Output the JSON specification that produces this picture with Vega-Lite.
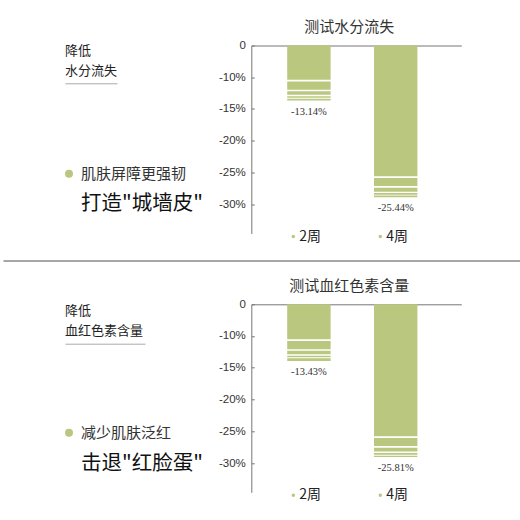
{
  "$schema": "https://vega.github.io/schema/vega-lite/v6.json",
  "background": "white",
  "padding": {"top": 19.5, "left": 0, "right": 0, "bottom": 0},
  "bounds": "flush",
  "columns": 2,
  "spacing": {"row": 70.8, "column": 98.3},
  "resolve": {"scale": {"color": "independent"}},
  "config": {
    "view": {"stroke": null},
    "font": "Noto Sans CJK SC",
    "axis": {"grid": false},
    "title": {"font": "Noto Sans CJK SC", "fontWeight": "normal", "fontSize": 15, "color": "#333", "anchor": "middle", "offset": 4.5, "dx": -7}
  },
  "concat": [
    {
      "width": 150,
      "height": 188,
      "data": {"values": [
        {"块": "标题", "文字": "降低"},
        {"块": "标题", "文字": "水分流失"},
        {"块": "要点", "文字": "肌肤屏障更强韧"},
        {"块": "口号", "文字": "打造\"城墙皮\""}
      ]},
      "resolve": {"scale": {"y": "independent"}},
      "layer": [
        {
          "transform": [{"filter": "datum['块'] === '标题'"}],
          "mark": {"type": "text", "align": "left", "baseline": "middle", "fontSize": 13, "color": "#222"},
          "encoding": {
            "x": {"datum": 0, "type": "quantitative", "scale": {"domain": [0, 1], "range": [62, 114]},
                  "axis": {"orient": "top", "offset": -37.8, "domain": true, "domainColor": "#aaa", "ticks": false, "labels": false, "title": null}},
            "y": {"field": "文字", "type": "nominal", "sort": null, "scale": {"type": "point", "padding": 0, "range": [5.5, 25]}, "axis": null},
            "text": {"field": "文字"}
          }
        },
        {
          "transform": [{"filter": "datum['块'] === '要点'"}],
          "mark": {"type": "point", "filled": true, "size": 64, "opacity": 1, "xOffset": 4, "color": "#b9c77f"},
          "encoding": {
            "x": {"datum": 0, "type": "quantitative"},
            "y": {"field": "块", "type": "nominal", "scale": {"type": "point", "padding": 0, "domain": ["要点", "口号"], "range": [128.2, 158.5]}, "axis": null}
          }
        },
        {
          "transform": [{"filter": "datum['块'] === '要点'"}],
          "mark": {"type": "text", "align": "left", "baseline": "middle", "fontSize": 15, "color": "#333", "dx": 16},
          "encoding": {
            "x": {"datum": 0, "type": "quantitative"},
            "y": {"field": "块", "type": "nominal", "scale": {"type": "point", "padding": 0, "domain": ["要点", "口号"], "range": [128.2, 158.5]}, "axis": null},
            "text": {"field": "文字"}
          }
        },
        {
          "transform": [{"filter": "datum['块'] === '口号'"}],
          "mark": {"type": "text", "align": "left", "baseline": "middle", "fontSize": 20.5, "color": "#111", "dx": 16},
          "encoding": {
            "x": {"datum": 0, "type": "quantitative"},
            "y": {"field": "块", "type": "nominal", "scale": {"type": "point", "padding": 0, "domain": ["要点", "口号"], "range": [128.2, 158.5]}, "axis": null},
            "text": {"field": "文字"}
          }
        }
      ]
    },
    {
      "width": 210,
      "height": 188,
      "title": "测试水分流失",
      "data": {"values": [
        {"周": "2周", "起": 0, "止": -10.44},
        {"周": "2周", "起": -10.71, "止": -12.01},
        {"周": "2周", "起": -12.23, "止": -12.79},
        {"周": "2周", "起": -13.01, "止": -13.26},
        {"周": "2周", "起": -13.42, "止": -13.68, "标注": "-13.14%"},
        {"周": "4周", "起": 0, "止": -25.52},
        {"周": "4周", "起": -25.8, "止": -27.08},
        {"周": "4周", "起": -27.32, "止": -27.95},
        {"周": "4周", "起": -28.15, "止": -28.42},
        {"周": "4周", "起": -28.57, "止": -28.81, "标注": "-25.44%"}
      ]},
      "layer": [
        {
          "mark": {"type": "bar", "opacity": 1},
          "encoding": {
            "x": {"field": "周", "type": "nominal", "sort": null,
                  "scale": {"paddingInner": 0.5, "paddingOuter": 0.46, "align": 0.45},
                  "axis": {"orient": "top", "domain": true, "domainColor": "#777", "ticks": false, "labels": false, "title": null}},
            "y": {"field": "起", "type": "quantitative",
                  "scale": {"domain": [0, -10, -34.5], "range": [0, 31.5, 188], "nice": false, "zero": false},
                  "axis": {"values": [0, -10, -15, -20, -25, -30], "tickCount": 12, "labelExpr": "datum.value === 0 ? '0' : datum.value + '%'",
                           "labelOverlap": false, "title": null, "domainColor": "#777", "tickColor": "#777", "tickSize": -3, "labelPadding": 9,
                           "labelFont": "Liberation Sans", "labelFontSize": 11.5, "labelColor": "#333"}},
            "y2": {"field": "止"},
            "color": {"field": "周", "type": "nominal", "scale": {"range": ["#b9c77f", "#b9c77f"]},
                      "legend": {"orient": "none", "legendX": 35, "legendY": 184, "direction": "horizontal", "title": null,
                                 "symbolType": "circle", "symbolSize": 12, "symbolStrokeWidth": 0, "labelOffset": -1,
                                 "labelFontSize": 14, "labelFont": "Noto Sans CJK SC", "labelColor": "#222", "columnPadding": 52, "padding": 0}}
          }
        },
        {
          "transform": [{"filter": "datum['标注']"}],
          "mark": {"type": "text", "baseline": "middle", "dy": 11, "font": "Liberation Serif", "fontSize": 10.5, "color": "#333"},
          "encoding": {
            "x": {"field": "周", "type": "nominal", "sort": null},
            "y": {"field": "止", "type": "quantitative"},
            "text": {"field": "标注"}
          }
        }
      ]
    },
    {
      "width": 150,
      "height": 188,
      "data": {"values": [
        {"块": "标题", "文字": "降低"},
        {"块": "标题", "文字": "血红色素含量"},
        {"块": "要点", "文字": "减少肌肤泛红"},
        {"块": "口号", "文字": "击退\"红脸蛋\""}
      ]},
      "resolve": {"scale": {"x": "independent", "y": "independent"}},
      "layer": [
        {
          "mark": {"type": "point", "opacity": 0},
          "encoding": {
            "x": {"datum": 0, "type": "quantitative", "scale": {"domain": [0, 1], "range": [0, 520]},
                  "axis": {"orient": "top", "offset": 43.8, "domain": true, "domainColor": "#888", "domainWidth": 1.5, "ticks": false, "labels": false, "title": null}}
          }
        },
        {
          "transform": [{"filter": "datum['块'] === '标题'"}],
          "mark": {"type": "text", "align": "left", "baseline": "middle", "fontSize": 13, "color": "#222"},
          "encoding": {
            "x": {"datum": 0, "type": "quantitative", "scale": {"domain": [0, 1], "range": [62, 142]},
                  "axis": {"orient": "top", "offset": -39.4, "domain": true, "domainColor": "#aaa", "ticks": false, "labels": false, "title": null}},
            "y": {"field": "文字", "type": "nominal", "sort": null, "scale": {"type": "point", "padding": 0, "range": [6.5, 26.5]}, "axis": null},
            "text": {"field": "文字"}
          }
        },
        {
          "transform": [{"filter": "datum['块'] === '要点'"}],
          "mark": {"type": "point", "filled": true, "size": 64, "opacity": 1, "xOffset": 4, "color": "#b9c77f"},
          "encoding": {
            "x": {"datum": 0, "type": "quantitative", "scale": {"domain": [0, 1], "range": [62, 142]}, "axis": null},
            "y": {"field": "块", "type": "nominal", "scale": {"type": "point", "padding": 0, "domain": ["要点", "口号"], "range": [128.4, 159.4]}, "axis": null}
          }
        },
        {
          "transform": [{"filter": "datum['块'] === '要点'"}],
          "mark": {"type": "text", "align": "left", "baseline": "middle", "fontSize": 15, "color": "#333", "dx": 16},
          "encoding": {
            "x": {"datum": 0, "type": "quantitative", "scale": {"domain": [0, 1], "range": [62, 142]}, "axis": null},
            "y": {"field": "块", "type": "nominal", "scale": {"type": "point", "padding": 0, "domain": ["要点", "口号"], "range": [128.4, 159.4]}, "axis": null},
            "text": {"field": "文字"}
          }
        },
        {
          "transform": [{"filter": "datum['块'] === '口号'"}],
          "mark": {"type": "text", "align": "left", "baseline": "middle", "fontSize": 20.5, "color": "#111", "dx": 16},
          "encoding": {
            "x": {"datum": 0, "type": "quantitative", "scale": {"domain": [0, 1], "range": [62, 142]}, "axis": null},
            "y": {"field": "块", "type": "nominal", "scale": {"type": "point", "padding": 0, "domain": ["要点", "口号"], "range": [128.4, 159.4]}, "axis": null},
            "text": {"field": "文字"}
          }
        }
      ]
    },
    {
      "width": 210,
      "height": 188,
      "title": "测试血红色素含量",
      "data": {"values": [
        {"周": "2周", "起": 0, "止": -10.55},
        {"周": "2周", "起": -10.82, "止": -12.12},
        {"周": "2周", "起": -12.34, "止": -12.9},
        {"周": "2周", "起": -13.12, "止": -13.37},
        {"周": "2周", "起": -13.53, "止": -13.95, "标注": "-13.43%"},
        {"周": "4周", "起": 0, "止": -25.71},
        {"周": "4周", "起": -25.99, "止": -27.27},
        {"周": "4周", "起": -27.51, "止": -28.13},
        {"周": "4周", "起": -28.34, "止": -28.61},
        {"周": "4周", "起": -28.76, "止": -28.98, "标注": "-25.81%"}
      ]},
      "layer": [
        {
          "mark": {"type": "bar", "opacity": 1},
          "encoding": {
            "x": {"field": "周", "type": "nominal", "sort": null,
                  "scale": {"paddingInner": 0.5, "paddingOuter": 0.46, "align": 0.45},
                  "axis": {"orient": "top", "domain": true, "domainColor": "#777", "ticks": false, "labels": false, "title": null}},
            "y": {"field": "起", "type": "quantitative",
                  "scale": {"domain": [0, -10, -34.5], "range": [0, 31.5, 188], "nice": false, "zero": false},
                  "axis": {"values": [0, -10, -15, -20, -25, -30], "tickCount": 12, "labelExpr": "datum.value === 0 ? '0' : datum.value + '%'",
                           "labelOverlap": false, "title": null, "domainColor": "#777", "tickColor": "#777", "tickSize": -3, "labelPadding": 9,
                           "labelFont": "Liberation Sans", "labelFontSize": 11.5, "labelColor": "#333"}},
            "y2": {"field": "止"},
            "color": {"field": "周", "type": "nominal", "scale": {"range": ["#b9c77f", "#b9c77f"]},
                      "legend": {"orient": "none", "legendX": 35, "legendY": 184, "direction": "horizontal", "title": null,
                                 "symbolType": "circle", "symbolSize": 12, "symbolStrokeWidth": 0, "labelOffset": -1,
                                 "labelFontSize": 14, "labelFont": "Noto Sans CJK SC", "labelColor": "#222", "columnPadding": 52, "padding": 0}}
          }
        },
        {
          "transform": [{"filter": "datum['标注']"}],
          "mark": {"type": "text", "baseline": "middle", "dy": 11, "font": "Liberation Serif", "fontSize": 10.5, "color": "#333"},
          "encoding": {
            "x": {"field": "周", "type": "nominal", "sort": null},
            "y": {"field": "止", "type": "quantitative"},
            "text": {"field": "标注"}
          }
        }
      ]
    }
  ]
}
